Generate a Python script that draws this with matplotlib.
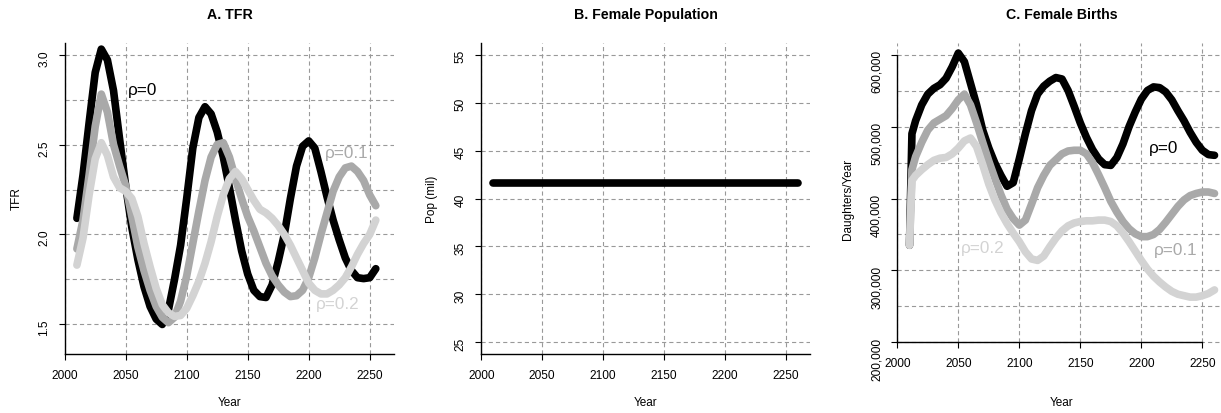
# TFR, populacao feminina e nascimentos femininos para rho = 0, 0.1, 0.2

import matplotlib
matplotlib.use('Agg')
import matplotlib.pyplot as plt

plt.rcParams['font.family'] = ['Liberation Sans', 'DejaVu Sans']
plt.rcParams['lines.scale_dashes'] = False

# ---- dados ----
anos_tfr = list(range(2010, 2256, 5))
tfr_rho0 = [2.09, 2.33, 2.62, 2.90, 3.03, 2.97, 2.80, 2.53, 2.27, 2.04,
            1.86, 1.71, 1.60, 1.53, 1.50, 1.58, 1.75, 1.94, 2.20, 2.48,
            2.65, 2.71, 2.67, 2.57, 2.43, 2.26, 2.08, 1.91, 1.78, 1.69,
            1.655, 1.65, 1.72, 1.85, 2.00, 2.20, 2.38, 2.49, 2.52, 2.48,
            2.35, 2.21, 2.08, 1.97, 1.87, 1.80, 1.76, 1.755, 1.76, 1.81]
tfr_rho1 = [1.92, 2.08, 2.33, 2.60, 2.78, 2.68, 2.50, 2.38, 2.27, 2.10,
            1.93, 1.80, 1.69, 1.60, 1.54, 1.51, 1.54, 1.63, 1.77, 1.95,
            2.13, 2.30, 2.43, 2.50, 2.51, 2.43, 2.31, 2.20, 2.10, 2.02,
            1.93, 1.84, 1.77, 1.72, 1.68, 1.655, 1.66, 1.69, 1.76, 1.87,
            2.00, 2.12, 2.24, 2.32, 2.37, 2.38, 2.35, 2.30, 2.22, 2.16]
tfr_rho2 = [1.83, 1.98, 2.22, 2.42, 2.51, 2.44, 2.32, 2.26, 2.24, 2.20,
            2.10, 1.95, 1.82, 1.70, 1.61, 1.565, 1.545, 1.55, 1.59, 1.66,
            1.74, 1.84, 1.96, 2.10, 2.22, 2.31, 2.35, 2.31, 2.25, 2.19,
            2.14, 2.12, 2.09, 2.05, 2.00, 1.94, 1.87, 1.80, 1.73, 1.69,
            1.67, 1.67, 1.69, 1.72, 1.76, 1.82, 1.89, 1.95, 2.00, 2.08]

anos_pop = [2010, 2260]
pop_fem = [41.6, 41.6]

anos_nasc = [2010, 2012] + list(range(2015, 2261, 5))
nasc_rho0 = [335, 490, 508, 530, 545, 553, 558, 567, 583, 602, 590,
             560, 530, 495, 470, 449, 432, 417, 422, 455, 490,
             522, 545, 556, 563, 568, 566, 550, 528, 505, 485,
             468, 455, 447, 446, 457, 476, 500, 520, 538, 550,
             555, 554, 548, 537, 522, 508, 492, 478, 467, 461, 460]
nasc_rho1 = [335, 440, 458, 478, 495, 505, 510, 515, 525, 537, 545,
             530, 505, 478, 452, 428, 405, 385, 372, 363, 370,
             392, 415, 432, 446, 454, 462, 466, 467, 467, 462,
             450, 433, 415, 396, 381, 368, 358, 351, 347, 347,
             350, 357, 367, 378, 389, 398, 404, 407, 409, 409, 407]
nasc_rho2 = [335, 425, 432, 440, 447, 453, 456, 457, 462, 470, 480,
             484, 472, 447, 420, 398, 380, 365, 352, 340, 326,
             316, 314, 320, 333, 345, 355, 362, 366, 368, 369,
             369, 370, 370, 368, 362, 352, 340, 327, 314, 302,
             292, 284, 277, 271, 267, 265, 263, 263, 265, 268, 273]
nasc_rho0 = [v * 1000 for v in nasc_rho0]
nasc_rho1 = [v * 1000 for v in nasc_rho1]
nasc_rho2 = [v * 1000 for v in nasc_rho2]

ticks_anos = [2000, 2050, 2100, 2150, 2200, 2250]
ticks_tfr = [1.5, 2.0, 2.5, 3.0]
grade_tfr = [1.5, 1.75, 2.0, 2.25, 2.5, 2.75, 3.0]
ticks_pop = [25, 30, 35, 40, 45, 50, 55]
ticks_nasc = [200000, 300000, 400000, 500000, 600000]
grade_nasc = [200000, 250000, 300000, 350000, 400000, 450000, 500000, 550000, 600000]
rotulos_nasc = ['200,000', '300,000', '400,000', '500,000', '600,000']

cores = ['black', '#a9a9a9', '#d3d3d3']
lw = 5.5
cor_grade = '#999999'
tracejado = (0, (3, 2.2))

W, H = 1221, 413
fig = plt.figure(figsize=(W / 100, H / 100), dpi=100)


def eixo(x0, x1):
    return fig.add_axes([x0 / W, (H - 354) / H, (x1 - x0) / W, 311 / H])


def estilo(ax):
    for lado in ['top', 'right']:
        ax.spines[lado].set_visible(False)
    for lado in ['left', 'bottom']:
        ax.spines[lado].set_linewidth(1.0)
    ax.tick_params(which='major', direction='out', length=4.5, width=0.8,
                   labelsize=8.6, pad=7)
    ax.tick_params(axis='y', labelrotation=90, pad=6)
    ax.tick_params(which='minor', length=0)
    ax.set_axisbelow(True)


# ---- A. TFR ----
axA = eixo(64.7, 394.1)
axA.set_xlim(2000, 2270)
axA.set_ylim(1.336, 3.064)
axA.set_xticks(ticks_anos)
axA.set_yticks(ticks_tfr)
axA.set_yticks(grade_tfr, minor=True)
estilo(axA)
axA.grid(True, which='both', color=cor_grade, lw=0.8, ls=tracejado)
for serie, cor in zip([tfr_rho0, tfr_rho1, tfr_rho2], cores):
    axA.plot(anos_tfr, serie, color=cor, lw=lw, solid_capstyle='round',
             solid_joinstyle='round')
axA.text(2064, 2.8, 'ρ=0', color=cores[0], fontsize=12.3, ha='center', va='center')
axA.text(2231, 2.45, 'ρ=0.1', color=cores[1], fontsize=12.3, ha='center', va='center')
axA.text(2224, 1.61, 'ρ=0.2', color=cores[2], fontsize=12.3, ha='center', va='center')

# ---- B. Female Population ----
axB = eixo(481.3, 810)
axB.set_xlim(2000, 2270)
axB.set_ylim(23.8, 56.2)
axB.set_xticks(ticks_anos)
axB.set_yticks(ticks_pop)
estilo(axB)
axB.grid(True, which='both', color=cor_grade, lw=0.8, ls=tracejado)
axB.plot(anos_pop, pop_fem, color='black', lw=lw, solid_capstyle='round')

# ---- C. Female Births ----
axC = eixo(897.3, 1226.7)
axC.set_xlim(2000, 2270)
axC.set_ylim(184000, 616000)
axC.set_xticks(ticks_anos)
axC.set_yticks(ticks_nasc)
axC.set_yticklabels(rotulos_nasc)
axC.set_yticks(grade_nasc, minor=True)
estilo(axC)
axC.spines['bottom'].set_position(('data', 200000))
axC.spines['bottom'].set_bounds(2000, 2250)
axC.spines['left'].set_bounds(200000, 600000)
axC.grid(True, axis='y', which='both', color=cor_grade, lw=0.8, ls=tracejado)
base = (200000 - 184000) / (616000 - 184000)
for ano in ticks_anos:
    axC.axvline(ano, ymin=base, ymax=1, color=cor_grade, lw=0.8, ls=tracejado,
                zorder=0.5)
for serie, cor in zip([nasc_rho0, nasc_rho1, nasc_rho2], cores):
    axC.plot(anos_nasc, serie, color=cor, lw=lw, solid_capstyle='round',
             solid_joinstyle='round')
axC.text(2218.6, 469000, 'ρ=0', color=cores[0], fontsize=12.3, ha='center', va='center')
axC.text(2228.5, 328000, 'ρ=0.1', color=cores[1], fontsize=12.3, ha='center', va='center')
axC.text(2069.8, 330600, 'ρ=0.2', color=cores[2], fontsize=12.3, ha='center', va='center')

# ---- titulos e rotulos ----
ytit = 1 - 15 / H
yano = 10 / H
ymeio = (H - 199) / H
for cx, tit in [(229.4, 'A. TFR'), (645.6, 'B. Female Population'), (1062, 'C. Female Births')]:
    fig.text(cx / W, ytit, tit, fontsize=10.2, fontweight='bold', ha='center', va='center')
    fig.text(cx / W, yano, 'Year', fontsize=8.5, ha='center', va='center')
for lx, rot in [(17, 'TFR'), (431.7, 'Pop (mil)'), (848, 'Daughters/Year')]:
    fig.text(lx / W, ymeio, rot, fontsize=8.5, rotation=90, ha='center', va='center')

fig.savefig('out.png', dpi=100)
